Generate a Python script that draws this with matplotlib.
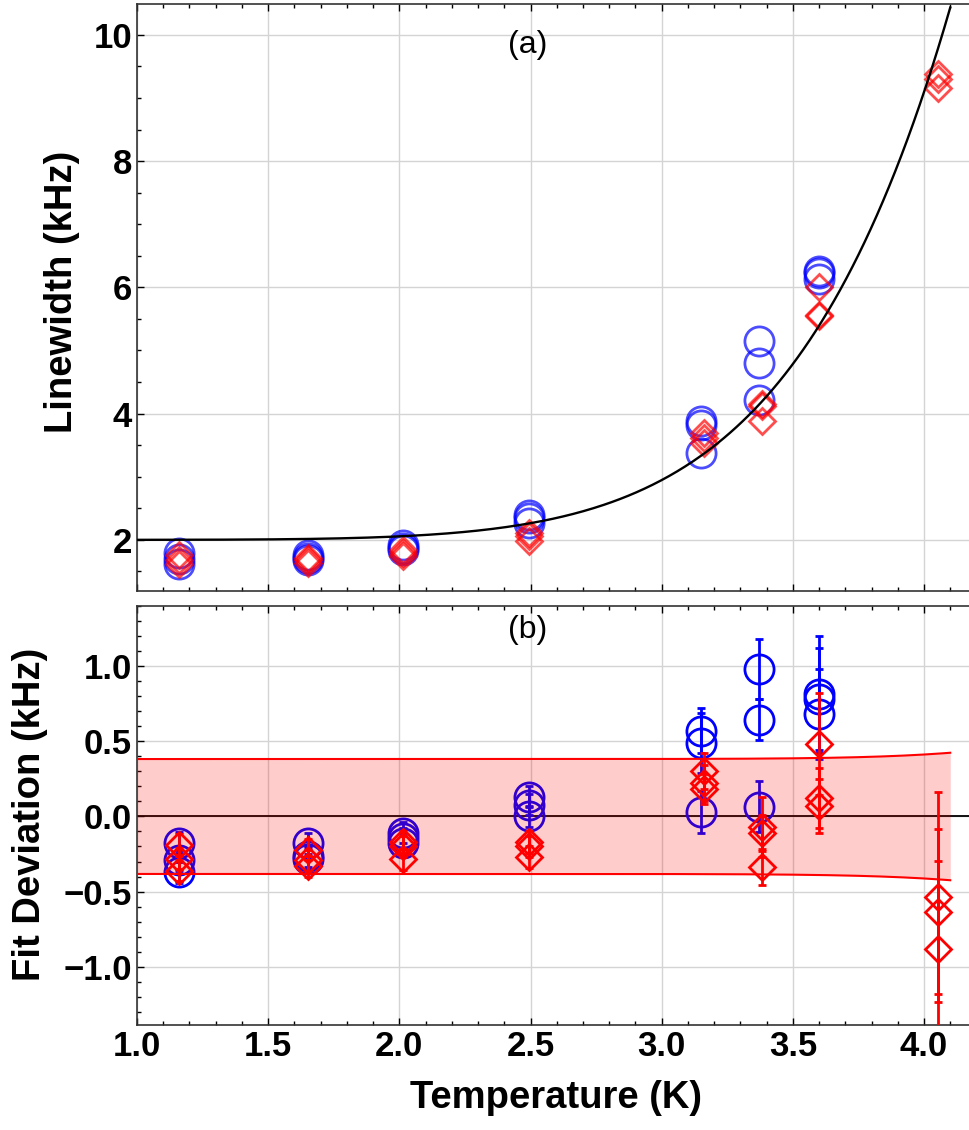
import matplotlib
matplotlib.use('Agg')
import matplotlib.pyplot as plt
from matplotlib.ticker import MultipleLocator
import numpy as np

plt.rcParams['font.family'] = ['Liberation Sans', 'DejaVu Sans']

# Temperatures (K) of each measurement, three runs per temperature
temp_blue = [1.16, 1.16, 1.16, 1.652, 1.652, 1.652, 2.013, 2.013, 2.013,
             2.495, 2.495, 2.495, 3.15, 3.15, 3.15, 3.37, 3.37, 3.37,
             3.60, 3.60, 3.60]
temp_red = [1.16, 1.16, 1.16, 1.652, 1.652, 1.652, 2.013, 2.013, 2.013,
            2.495, 2.495, 2.495, 3.16, 3.16, 3.16, 3.383, 3.383, 3.383,
            3.60, 3.60, 3.60, 4.055, 4.055, 4.055]

# Measured linewidths (kHz)
width_blue = [1.79, 1.69, 1.61, 1.76, 1.71, 1.68, 1.92, 1.87, 1.84,
              2.40, 2.34, 2.27, 3.88, 3.82, 3.37, 5.15, 4.80, 4.22,
              6.26, 6.22, 6.14]
width_red = [1.76, 1.68, 1.62, 1.72, 1.68, 1.63, 1.84, 1.79, 1.74,
             2.11, 2.06, 1.98, 3.70, 3.61, 3.53, 4.16, 4.12, 3.89,
             6.01, 5.57, 5.54, 9.38, 9.30, 9.16]

# Residuals from the fit (kHz) and their uncertainties
dev_blue = [-0.175, -0.29, -0.37, -0.18, -0.265, -0.28, -0.11, -0.145, -0.18,
            0.13, 0.077, 0.0, 0.57, 0.49, 0.03, 0.98, 0.645, 0.065,
            0.815, 0.78, 0.68]
err_blue = [0.07, 0.07, 0.07, 0.07, 0.07, 0.07, 0.07, 0.07, 0.07,
            0.07, 0.07, 0.07, 0.15, 0.20, 0.14, 0.20, 0.135, 0.17,
            0.39, 0.34, 0.30]
dev_red = [-0.19, -0.28, -0.36, -0.22, -0.29, -0.33, -0.17, -0.20, -0.285,
           -0.17, -0.20, -0.27, 0.305, 0.225, 0.18, -0.07, -0.11, -0.335,
           0.485, 0.125, 0.07, -0.535, -0.635, -0.885]
err_red = [0.07, 0.07, 0.07, 0.07, 0.07, 0.07, 0.07, 0.07, 0.07,
           0.07, 0.07, 0.07, 0.12, 0.12, 0.10, 0.20, 0.12, 0.12,
           0.34, 0.20, 0.18, 0.70, 0.55, 0.59]

# Fit: width = gamma0 + coeff * T^power, band half-width sqrt(s0^2 + (s1*T^power)^2)
fit_gamma0 = 2.0
fit_coeff = 4.33e-4
fit_power = 7
band_s0 = 0.383
band_s1 = 9.45e-6
fit_tmax = 4.1

t_fit = np.linspace(1.0, fit_tmax, 400)
w_fit = fit_gamma0 + fit_coeff * t_fit**fit_power
half_band = np.sqrt(band_s0**2 + (band_s1 * t_fit**fit_power)**2)

fig = plt.figure(figsize=(9.69, 11.3), dpi=100)
ax1 = fig.add_axes([0.1414, 0.4770, 0.8586, 0.5195])
ax2 = fig.add_axes([0.1414, 0.0929, 0.8586, 0.3708])

grid_kw = dict(color='#d4d4d4', lw=1.0)
for ax in (ax1, ax2):
    ax.set_xlim(1.0, 4.1715)
    ax.xaxis.set_major_locator(MultipleLocator(0.5))
    ax.xaxis.set_minor_locator(MultipleLocator(0.1))
    ax.grid(True, which='major', **grid_kw)
    ax.set_axisbelow(True)
    ax.tick_params(which='both', direction='in', top=True, right=False,
                   labelsize=25, width=1.0)
    ax.tick_params(which='major', length=5)
    ax.tick_params(which='minor', length=3)
    ax.spines['right'].set_visible(False)
    for s in ('left', 'top', 'bottom'):
        ax.spines[s].set_linewidth(1.2)
        ax.spines[s].set_color('#333333')

# (a) linewidth vs temperature
ax1.set_ylim(1.19, 10.49)
ax1.yaxis.set_major_locator(MultipleLocator(2))
ax1.yaxis.set_minor_locator(MultipleLocator(0.5))
ax1.tick_params(labelbottom=False)
ax1.plot(temp_blue, width_blue, 'o', ms=21, mfc='none', mec='blue',
         mew=2.0, alpha=0.7, zorder=3)
ax1.plot(temp_red, width_red, 'D', ms=13, mfc='none', mec='red',
         mew=2.0, alpha=0.7, zorder=4)
ax1.plot(t_fit, w_fit, color='black', lw=1.7, zorder=5)
ax1.text(0.47, 0.93, '(a)', transform=ax1.transAxes, ha='center', va='center',
         fontsize=23)

# (b) residuals with confidence band
ax2.set_ylim(-1.39, 1.403)
ax2.yaxis.set_major_locator(MultipleLocator(0.5))
ax2.yaxis.set_minor_locator(MultipleLocator(0.1))
ax2.axhline(0, color='black', lw=1.3, zorder=2)
ax2.errorbar(temp_blue, dev_blue, yerr=err_blue, fmt='o', ms=21, mfc='none',
             mec='blue', mew=2.0, ecolor='blue', elinewidth=2.0, capsize=3,
             capthick=1.6, zorder=3)
ax2.errorbar(temp_red, dev_red, yerr=err_red, fmt='D', ms=13, mfc='none',
             mec='red', mew=2.0, ecolor='red', elinewidth=2.0, capsize=3,
             capthick=1.6, zorder=4)
ax2.fill_between(t_fit, -half_band, half_band, color='red', alpha=0.2,
                 lw=0, zorder=6)
ax2.plot(t_fit, half_band, color='red', lw=1.5, zorder=7)
ax2.plot(t_fit, -half_band, color='red', lw=1.5, zorder=7)
ax2.text(0.47, 0.943, '(b)', transform=ax2.transAxes, ha='center', va='center',
         fontsize=23)

for ax in (ax1, ax2):
    for lab in ax.get_xticklabels() + ax.get_yticklabels():
        lab.set_fontweight('bold')

fig.text(0.064, 0.742, 'Linewidth (kHz)', rotation=90, ha='center',
         va='center', fontsize=27.5, fontweight='bold')
fig.text(0.031, 0.279, 'Fit Deviation (kHz)', rotation=90, ha='center',
         va='center', fontsize=27.5, fontweight='bold')
fig.text(0.574, 0.028, 'Temperature (K)', ha='center', va='center',
         fontsize=27.5, fontweight='bold')

fig.savefig('out.png', dpi=100)
